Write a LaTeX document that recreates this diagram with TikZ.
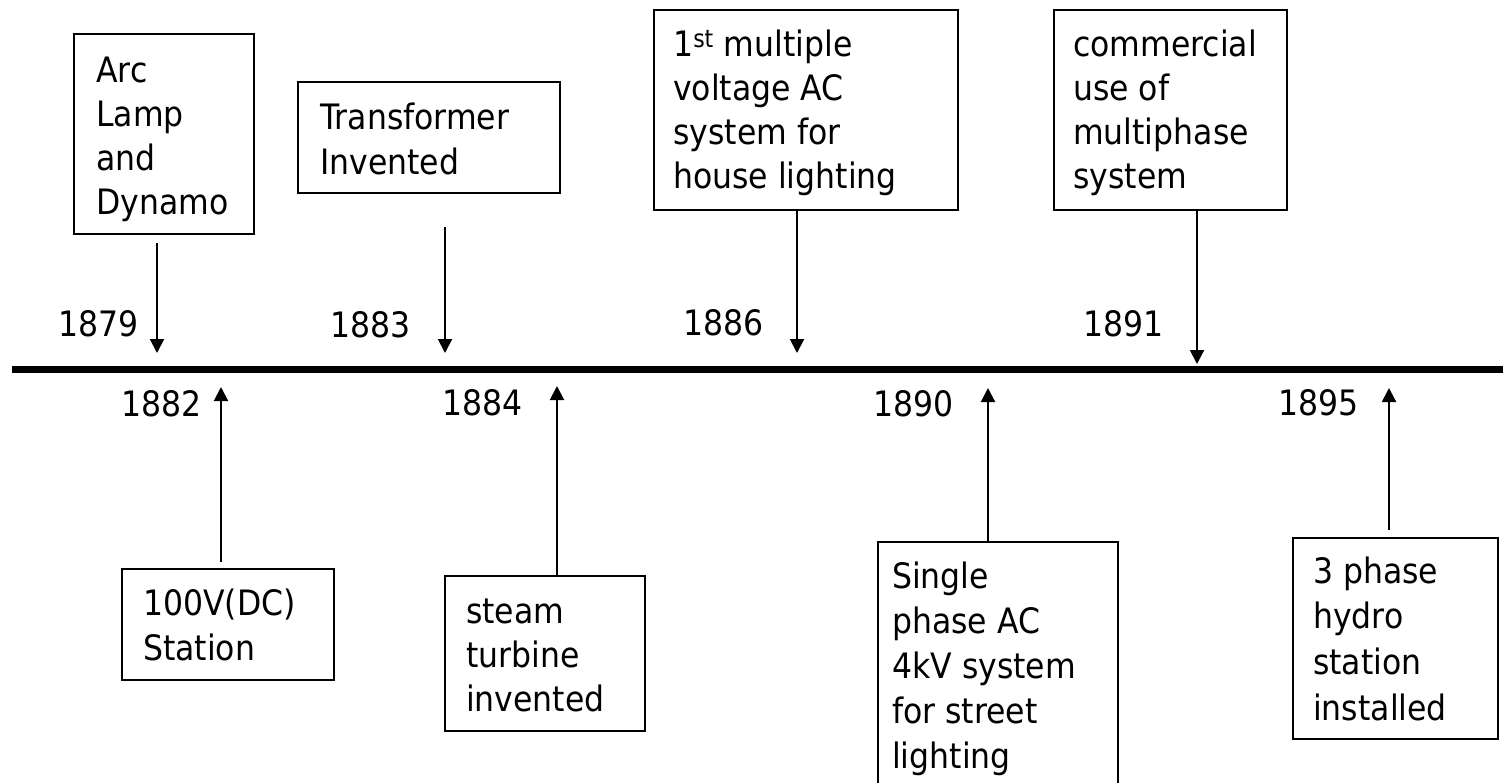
\documentclass[tikz,border=0pt]{standalone}
\usepackage{fontspec}
\setmainfont{DejaVu Sans}[FakeStretch=0.9]
\usetikzlibrary{arrows.meta}
\newcommand\boxtext[2]{\parbox[t]{300pt}{\fontsize{35}{#1}\selectfont #2}}
\begin{document}
\begin{tikzpicture}[x=1pt,y=-1pt,
  box/.style={draw, line width=2pt, rectangle, inner sep=0pt, anchor=north west},
  lbl/.style={anchor=base west, inner sep=0pt, font=\fontsize{35}{44}\selectfont},
  arr/.style={line width=2pt, -{Triangle[width=14pt,length=14pt]}},
  axis/.style={line width=7.5pt}]
\useasboundingbox (0,0) rectangle (1503,782);
\clip (0,0) rectangle (1503,782);

% time axis
\coordinate (L) at (12,369.5);
\coordinate (R) at (1503,369.5);
\draw[axis] (L) -- (R);

% boxes above
\node[box, minimum width=180pt, minimum height=200pt] (arc) at (73,33) {};
\node[box, minimum width=262pt, minimum height=111pt] (trans) at (297,81) {};
\node[box, minimum width=304pt, minimum height=200pt] (first) at (653,9) {};
\node[box, minimum width=233pt, minimum height=200pt] (comm) at (1053,9) {};

% boxes below
\node[box, minimum width=212pt, minimum height=111pt] (dc) at (121,568) {};
\node[box, minimum width=200pt, minimum height=155pt] (steam) at (444,575) {};
\node[box, minimum width=240pt, minimum height=260pt] (single) at (877,541) {};
\node[box, minimum width=205pt, minimum height=201pt] (hydro) at (1292,537) {};

% box texts
\node[lbl] (arcT) at (96,82) {\boxtext{44.3}{Arc\\Lamp\\and\\Dynamo}};
\node[lbl] (transT) at (320,129) {\boxtext{45}{Transformer\\Invented}};
\node[lbl] (firstT) at (673,56.5) {\boxtext{44}{1\textsuperscript{st} multiple\\voltage AC\\system for\\house lighting}};
\node[lbl] (commT) at (1073,56) {\boxtext{44}{commercial\\use of\\multiphase\\system}};
\node[lbl] (dcT) at (143,615) {\boxtext{45}{100V(DC)\\Station}};
\node[lbl] (steamT) at (466,623) {\boxtext{44}{steam\\turbine\\invented}};
\node[lbl] (singleT) at (892,588) {\boxtext{45}{Single\\phase AC\\4kV system\\for street\\lighting}};
\node[lbl] (hydroT) at (1313,583) {\boxtext{45.7}{3 phase\\hydro\\station\\installed}};

% year labels
\node[lbl] (y1879) at (58,336) {1879};
\node[lbl] (y1883) at (330,337) {1883};
\node[lbl] (y1886) at (683,335) {1886};
\node[lbl] (y1891) at (1083,336) {1891};
\node[lbl] (y1882) at (121,416) {1882};
\node[lbl] (y1884) at (442,415) {1884};
\node[lbl] (y1890) at (873,416) {1890};
\node[lbl] (y1895) at (1278,415) {1895};

% arrow tips
\coordinate (t1879) at (157,353);
\coordinate (t1883) at (445,353);
\coordinate (t1886) at (797,353);
\coordinate (t1891) at (1197,364);
\coordinate (t1882) at (221,387);
\coordinate (t1884) at (557,386);
\coordinate (t1890) at (988,388);
\coordinate (t1895) at (1389,388);

\draw[arr, shorten <=8pt] (arc.south -| t1879) -- (t1879);
\draw[arr, shorten <=33pt] (trans.south -| t1883) -- (t1883);
\draw[arr] (first.south -| t1886) -- (t1886);
\draw[arr] (comm.south -| t1891) -- (t1891);
\draw[arr, shorten <=6pt] (dc.north -| t1882) -- (t1882);
\draw[arr] (steam.north -| t1884) -- (t1884);
\draw[arr] (single.north -| t1890) -- (t1890);
\draw[arr, shorten <=7pt] (hydro.north -| t1895) -- (t1895);
\end{tikzpicture}
\end{document}
